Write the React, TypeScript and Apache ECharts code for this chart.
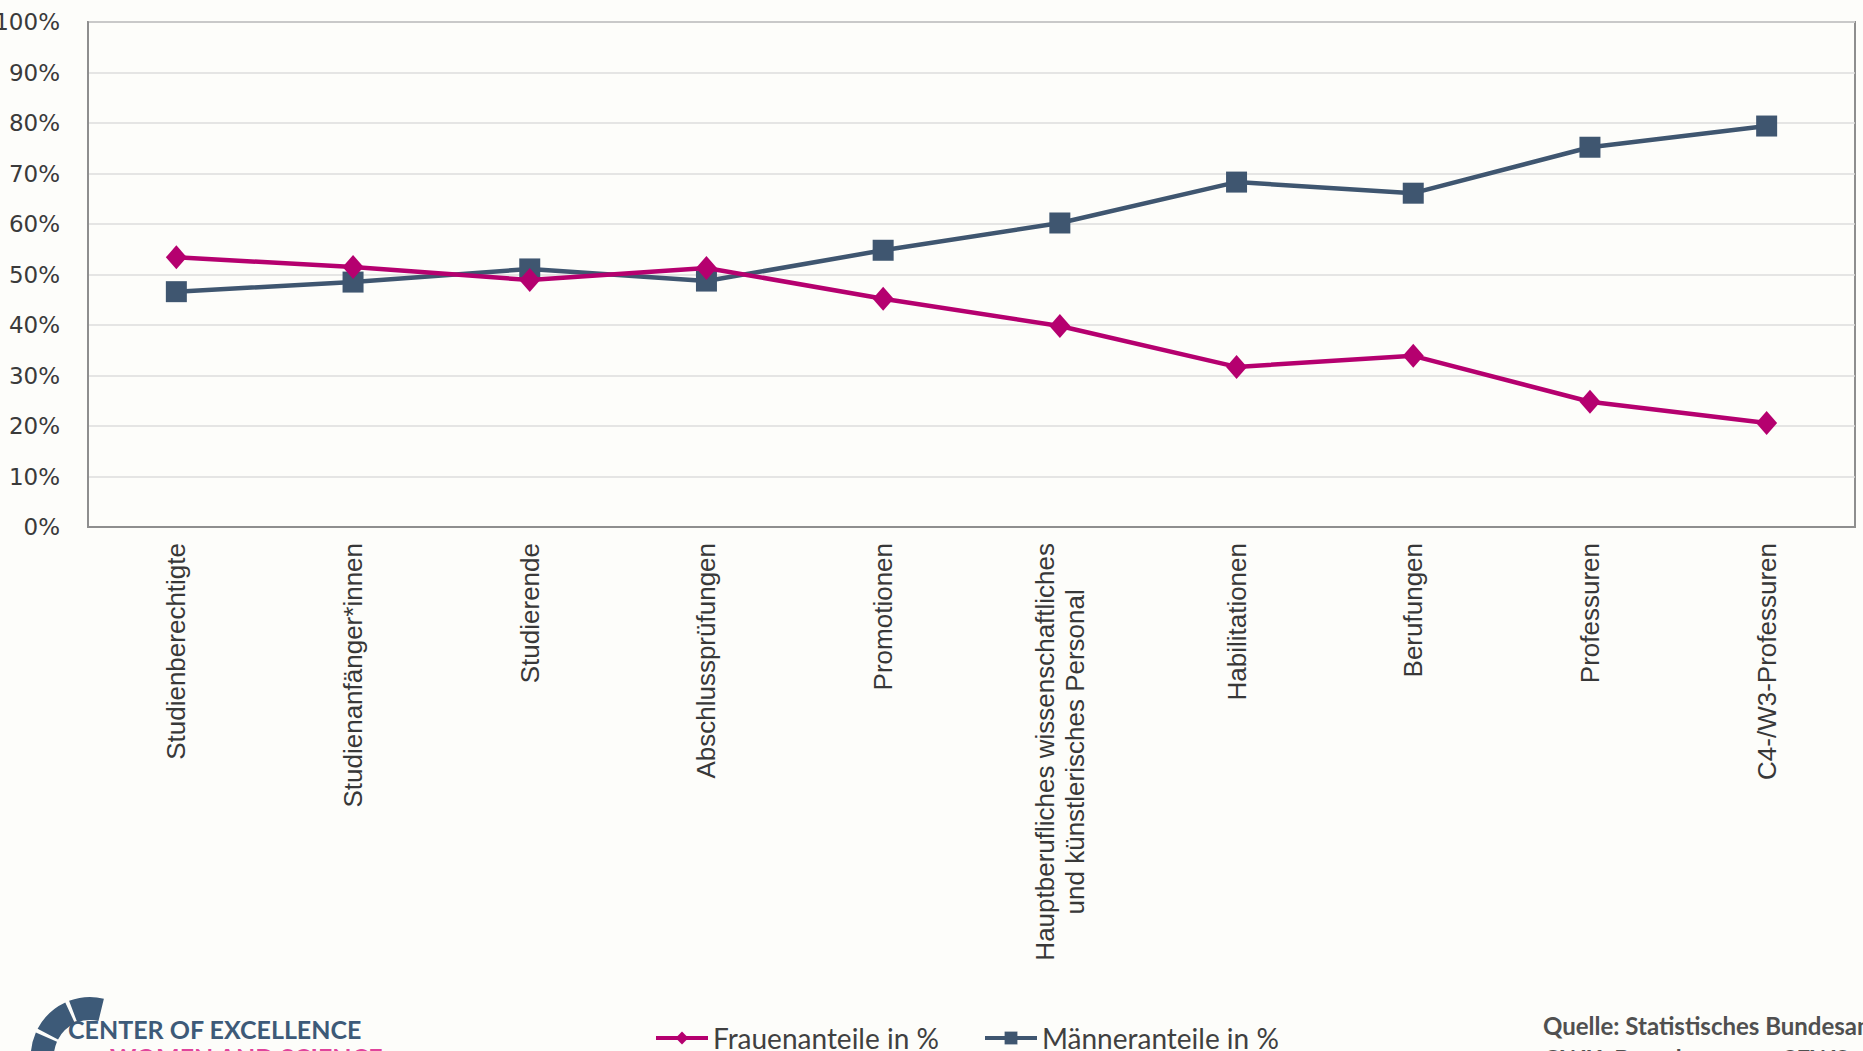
import React, { useEffect, useRef } from "react";
import * as echarts from "echarts";

const categories = [
  "Studienberechtigte",
  "Studienanfänger*innen",
  "Studierende",
  "Abschlussprüfungen",
  "Promotionen",
  "Hauptberufliches wissenschaftliches\nund künstlerisches Personal",
  "Habilitationen",
  "Berufungen",
  "Professuren",
  "C4-/W3-Professuren",
];

const frauenanteile = [53.4, 51.5, 48.9, 51.3, 45.2, 39.8, 31.7, 33.9, 24.8, 20.6];
const maenneranteile = [46.6, 48.5, 51.1, 48.7, 54.8, 60.2, 68.3, 66.1, 75.2, 79.4];

const seriesNames = ["Frauenanteile in %", "Männeranteile in %"];
const yTicks = { min: 0, max: 100, interval: 10 };

const PINK = "#B5006F";
const SLATE = "#3F5670";
const BG = "#FDFDFA";

export default function App() {
  const ref = useRef<HTMLDivElement>(null);

  useEffect(() => {
    if (!ref.current) return;
    const chart = echarts.init(ref.current, null, { renderer: "svg" });

    const logoColor = "#3D5A78";
    const segs = [
      [2.72, 3.55],
      [3.62, 4.28],
      [4.35, 4.95],
    ];

    const legendBase = {
      top: 1019,
      itemWidth: 52,
      itemHeight: 16,
      itemGap: 0,
      lineStyle: { width: 4 },
      textStyle: { fontFamily: "Lato", fontSize: 28, color: "#404040" },
    };

    const option: any = {
      animation: false,
      backgroundColor: BG,
      grid: {
        left: 88,
        right: 8,
        top: 22,
        bottom: 524,
        show: true,
        borderColor: "#8E8E8E",
        borderWidth: 2,
        backgroundColor: "transparent",
        containLabel: false,
        outerBoundsMode: "none",
      },
      legend: [
        { ...legendBase, data: [seriesNames[0]], left: 649 },
        { ...legendBase, data: [seriesNames[1]], left: 978 },
      ],
      xAxis: {
        type: "category",
        data: categories,
        boundaryGap: true,
        axisLine: { show: true, lineStyle: { color: "#8E8E8E", width: 2 } },
        axisTick: { show: false },
        splitLine: { show: false },
        axisLabel: {
          interval: 0,
          rotate: 90,
          margin: 16,
          formatter: (v: string) =>
            v
              .split("\n")
              .map((l) => `{c|${l}}`)
              .join("\n"),
          rich: {
            c: {
              align: "center",
              fontFamily: "Liberation Sans",
              fontSize: 26,
              lineHeight: 30,
              color: "#383838",
            },
          },
        },
      },
      yAxis: {
        type: "value",
        min: yTicks.min,
        max: yTicks.max,
        interval: yTicks.interval,
        axisLine: { show: true, lineStyle: { color: "#8E8E8E", width: 2 } },
        axisTick: { show: false },
        splitLine: { show: true, lineStyle: { color: "#DCDCDC", width: 1.5 } },
        axisLabel: {
          formatter: "{value}%",
          margin: 28,
          fontFamily: "DejaVu Sans",
          fontSize: 23,
          color: "#3A3A3A",
        },
      },
      series: [
        {
          name: seriesNames[0],
          type: "line",
          data: frauenanteile,
          symbol: "diamond",
          symbolSize: [21, 24],
          lineStyle: { color: PINK, width: 4.5 },
          itemStyle: { color: PINK },
          z: 3,
        },
        {
          name: seriesNames[1],
          type: "line",
          data: maenneranteile,
          symbol: "rect",
          symbolSize: 21,
          lineStyle: { color: SLATE, width: 4.5 },
          itemStyle: { color: SLATE },
          z: 2,
        },
      ],
      graphic: [
        ...segs.map((s) => ({
          type: "sector",
          shape: { cx: 90, cy: 1056, r0: 36, r: 59, startAngle: s[0], endAngle: s[1], clockwise: true },
          style: { fill: logoColor },
        })),
        {
          type: "text",
          left: 68,
          top: 1015,
          style: { text: "CENTER OF EXCELLENCE", font: "bold 25px Lato", lineHeight: 27, fill: logoColor },
        },
        {
          type: "text",
          left: 110,
          top: 1043,
          style: { text: "WOMEN AND SCIENCE", font: "bold 25px Lato", lineHeight: 27, fill: "#E0449C" },
        },
        {
          type: "text",
          left: 1543,
          top: 1011,
          style: { text: "Quelle: Statistisches Bundesamt,", font: "bold 24px Lato", lineHeight: 28, fill: "#505050" },
        },
        {
          type: "text",
          left: 1543,
          top: 1044,
          style: { text: "GWK; Berechnungen: CEWS", font: "bold 24px Lato", lineHeight: 28, fill: "#505050" },
        },
      ],
    };

    chart.setOption(option);
    return () => chart.dispose();
  }, []);

  return (
    <div
      ref={ref}
      style={{ position: "fixed", left: 0, top: 0, width: 1863, height: 1051, background: BG }}
    />
  );
}
